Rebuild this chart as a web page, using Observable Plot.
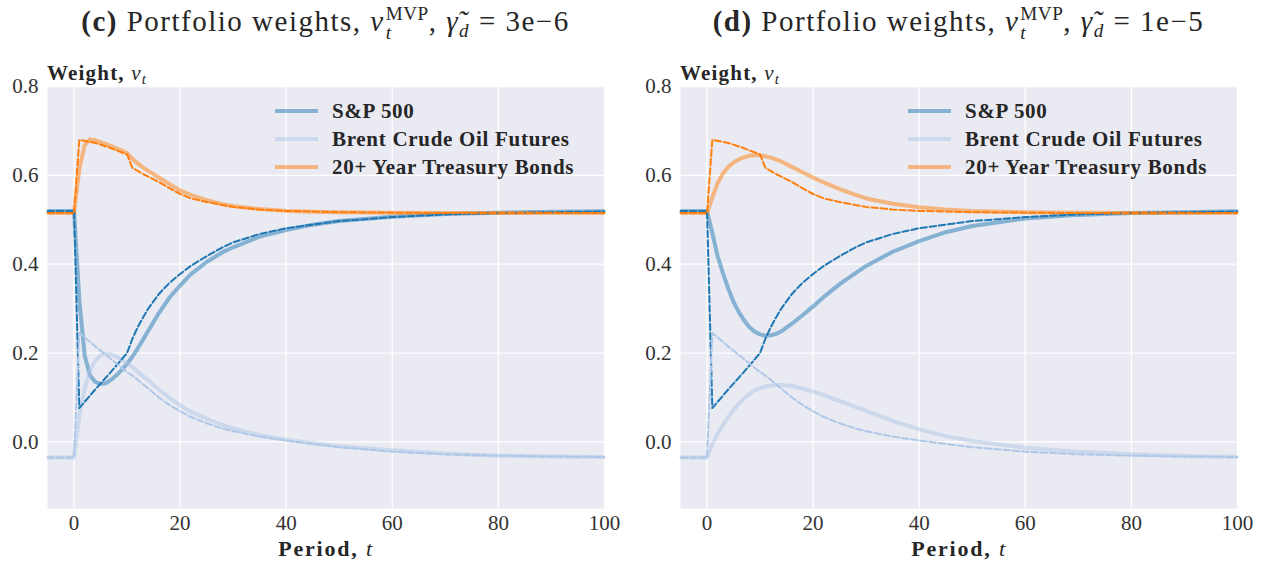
<!DOCTYPE html>
<html><head><meta charset="utf-8">
<script src="https://cdn.jsdelivr.net/npm/d3@7"></script>
<script src="https://cdn.jsdelivr.net/npm/@observablehq/plot@0.6"></script>
<style>
body{margin:0;background:#fff;width:1262px;height:565px;overflow:hidden;font-family:"Liberation Serif","Times New Roman","DejaVu Serif",serif;color:#262626}
.panel{position:absolute;top:0;width:631px;height:565px}
.title{position:absolute;top:1px;left:27px;width:597px;text-align:center;font-size:29px;letter-spacing:1.5px;white-space:nowrap;line-height:40px}
.chart{position:absolute;top:50px;left:0}
.ss{display:inline-block;vertical-align:-0.4em;line-height:1;font-size:0.66em;margin-left:1px;text-align:left;letter-spacing:0.5px}
.ss span{display:block}
.sb{font-size:0.66em;vertical-align:-0.3em}
</style></head>
<body>
<div class="panel" id="p0" style="left:0"><div class="title" id="t0"></div><div class="chart" id="c0"></div></div>
<div class="panel" id="p1" style="left:633px"><div class="title" id="t1"></div><div class="chart" id="c1"></div></div>
<script>
const FONT = "Liberation Serif, Times New Roman, DejaVu Serif, serif";
const xTicks = [0, 20, 40, 60, 80, 100];
const yTicks = [0, 0.2, 0.4, 0.6, 0.8];
const seriesNames = ["S&P 500", "Brent Crude Oil Futures", "20+ Year Treasury Bonds"];
const seriesColors = ["#1f77b4", "#aec7e8", "#ff7f0e"];
const panelLetters = ["(c)", "(d)"];
const panelGammas = ["3e\u22126", "1e\u22125"];

// Solid lines (time grid shared by both panels)
const tSolid = [-5,0,1,2,3,4,5,6,7,8,9,10,11,12,13,14,16,18,20,22,25,28,30,35,40,45,50,60,70,80,90,100];
const spC   = [0.52,0.52,0.32,0.195,0.15,0.135,0.13,0.132,0.14,0.15,0.162,0.176,0.192,0.21,0.23,0.25,0.29,0.325,0.352,0.377,0.405,0.427,0.438,0.462,0.477,0.489,0.497,0.507,0.513,0.516,0.518,0.519];
const oilC  = [-0.035,-0.035,0.06,0.12,0.16,0.183,0.195,0.198,0.197,0.192,0.185,0.177,0.168,0.158,0.148,0.138,0.118,0.099,0.082,0.068,0.052,0.038,0.03,0.015,0.005,-0.003,-0.01,-0.019,-0.026,-0.031,-0.033,-0.034];
const bondC = [0.515,0.515,0.615,0.668,0.681,0.679,0.675,0.671,0.666,0.661,0.656,0.65,0.637,0.627,0.618,0.61,0.595,0.58,0.566,0.556,0.544,0.535,0.531,0.524,0.52,0.518,0.517,0.516,0.515,0.515,0.515,0.515];
const spD   = [0.52,0.52,0.47,0.418,0.38,0.345,0.315,0.292,0.273,0.258,0.248,0.242,0.239,0.24,0.243,0.249,0.266,0.285,0.305,0.326,0.355,0.38,0.396,0.428,0.452,0.472,0.486,0.503,0.511,0.515,0.517,0.519];
const oilD  = [-0.035,-0.035,-0.005,0.018,0.038,0.056,0.072,0.086,0.098,0.108,0.116,0.121,0.125,0.127,0.128,0.128,0.126,0.12,0.113,0.105,0.092,0.079,0.07,0.047,0.028,0.013,0.002,-0.013,-0.022,-0.028,-0.032,-0.034];
const bondD = [0.515,0.515,0.55,0.583,0.604,0.619,0.629,0.636,0.641,0.644,0.645,0.645,0.643,0.64,0.636,0.631,0.619,0.607,0.595,0.584,0.569,0.556,0.548,0.536,0.528,0.523,0.52,0.517,0.516,0.515,0.515,0.515];

// Dashed lines (same in both panels)
const tDash = [-5,0,1,4,7,10,11,12,13,14,16,18,20,22,25,28,30,35,40,50,60,70,80,90,100];
const spDash   = [0.52,0.52,0.076,0.118,0.158,0.2,0.232,0.258,0.28,0.3,0.333,0.358,0.378,0.396,0.418,0.438,0.449,0.468,0.481,0.497,0.506,0.512,0.515,0.517,0.519];
const oilDash  = [-0.035,-0.035,0.245,0.215,0.186,0.157,0.149,0.14,0.13,0.12,0.1,0.083,0.069,0.056,0.042,0.03,0.024,0.012,0.003,-0.012,-0.022,-0.028,-0.031,-0.033,-0.034];
const bondDash = [0.515,0.515,0.68,0.673,0.661,0.647,0.617,0.61,0.603,0.597,0.585,0.571,0.558,0.548,0.54,0.533,0.529,0.523,0.52,0.517,0.516,0.515,0.515,0.515,0.515];

const solidSets = [[spC, oilC, bondC], [spD, oilD, bondD]];
const dashSet = [spDash, oilDash, bondDash];

function rows(ts, vs) { return ts.map((t, i) => ({t, v: vs[i]})); }

function makePanel(p) {
  const marks = [
    Plot.frame({fill: "#EAEAF2", stroke: null}),
    Plot.gridX(xTicks, {stroke: "#fff", strokeOpacity: 1, strokeWidth: 1.3}),
    Plot.gridY(yTicks, {stroke: "#fff", strokeOpacity: 1, strokeWidth: 1.3}),
  ];
  solidSets[p].forEach((vs, i) => {
    marks.push(Plot.line(rows(tSolid, vs), {x: "t", y: "v", stroke: seriesColors[i], strokeOpacity: 0.5, strokeWidth: 4, strokeLinejoin: "round", strokeLinecap: "butt"}));
  });
  dashSet.forEach((vs, i) => {
    marks.push(Plot.line(rows(tDash, vs), {x: "t", y: "v", stroke: seriesColors[i], strokeOpacity: 1, strokeWidth: 2, strokeDasharray: "6.5,2.8"}));
  });
  marks.push(Plot.axisX(xTicks, {tickSize: 0, tickPadding: 7, fontSize: 21, fill: "#333", label: null, fontFamily: FONT}));
  marks.push(Plot.axisY(yTicks, {tickSize: 0, tickPadding: 9, fontSize: 21, fill: "#333", tickFormat: d3.format(".1f"), label: null, fontFamily: FONT}));
  const svg = Plot.plot({
    width: 631, height: 515,
    marginLeft: 47, marginRight: 27, marginTop: 36, marginBottom: 57,
    x: {domain: [-5, 100]},
    y: {domain: [-0.15, 0.8]},
    style: {fontFamily: FONT, background: "transparent", overflow: "visible"},
    marks
  });
  const s = d3.select(svg);
  // y label
  const yl = s.append("text").attr("x", 47).attr("y", 30).attr("text-anchor", "start").attr("font-size", 21)
    .attr("letter-spacing", 1.2).attr("fill", "#262626").attr("font-family", FONT);
  yl.append("tspan").attr("font-weight", "bold").text("Weight,");
  yl.append("tspan").attr("font-style", "italic").text(" v");
  yl.append("tspan").attr("font-style", "italic").attr("font-size", 15).attr("dy", 4).text("t");
  // x label
  const xl = s.append("text").attr("x", 326).attr("y", 506).attr("text-anchor", "middle").attr("font-size", 22)
    .attr("letter-spacing", 1.8).attr("fill", "#262626").attr("font-family", FONT);
  xl.append("tspan").attr("font-weight", "bold").text("Period,");
  xl.append("tspan").attr("font-style", "italic").text(" t");
  // legend
  seriesNames.forEach((name, i) => {
    const y = 61 + i * 28;
    s.append("line").attr("x1", 275).attr("x2", 318).attr("y1", y).attr("y2", y)
      .attr("stroke", seriesColors[i]).attr("stroke-opacity", 0.5).attr("stroke-width", 4);
    s.append("text").attr("x", 332).attr("y", y + 7).attr("text-anchor", "start").attr("font-size", 21)
      .attr("letter-spacing", 0.7).attr("font-weight", "bold")
      .attr("fill", "#262626").attr("font-family", FONT).text(name);
  });
  document.getElementById("c" + p).appendChild(svg);
  document.getElementById("t" + p).innerHTML =
    `<b>${panelLetters[p]}</b> Portfolio weights, <i>v</i><span class="ss"><span>MVP</span><span><i>t</i></span></span>, <i>\u03B3\u0303</i><span class="sb"><i>d</i></span> = ${panelGammas[p]}`;
}
makePanel(0);
makePanel(1);
</script>
</body></html>
